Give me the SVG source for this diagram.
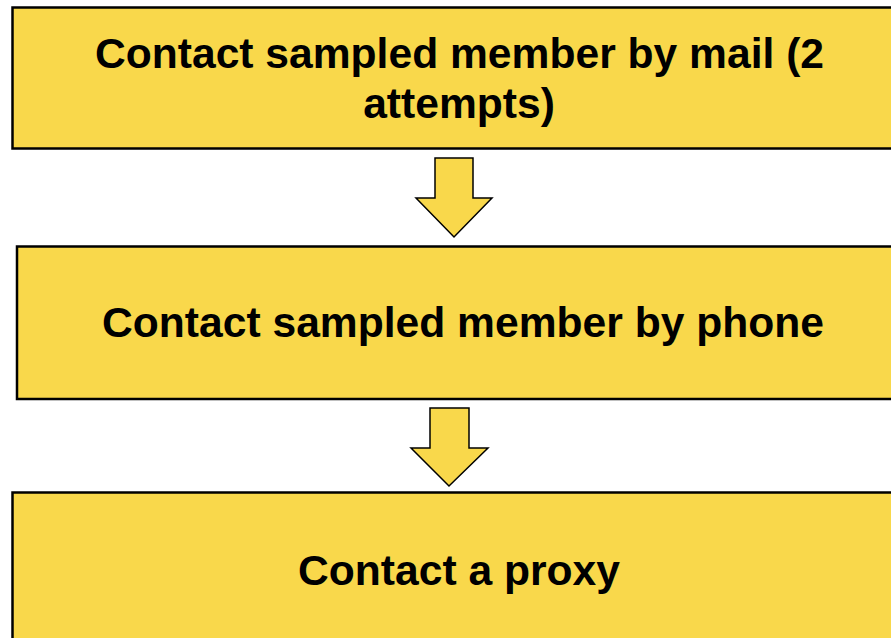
<svg xmlns="http://www.w3.org/2000/svg" width="891" height="638" viewBox="0 0 891 638">
<style>
.box{fill:#F9D84B;stroke:#000;stroke-width:2.5}
.arr{fill:#F9D84B;stroke:#000;stroke-width:1.5;stroke-linejoin:miter}
.t{font-family:"Liberation Sans",Arial,sans-serif;font-weight:bold;font-size:42.6px;fill:#000;text-anchor:middle}
</style>
<rect width="891" height="638" fill="#fff"/>
<g id="node1">
<rect class="box" x="12.5" y="7.5" width="900" height="141"/>
<text class="t" x="459.5" y="68">Contact sampled member by mail (2</text>
<text class="t" x="459" y="118">attempts)</text>
</g>
<g id="node2">
<rect class="box" x="17" y="246.5" width="900" height="152.5"/>
<text class="t" x="463" y="337">Contact sampled member by phone</text>
</g>
<g id="node3">
<rect class="box" x="12.5" y="492.5" width="900" height="160"/>
<text class="t" x="459" y="585">Contact a proxy</text>
</g>
<g id="connectors">
<polygon class="arr" points="435,158 473,158 473,198 492,198 454,237 416,198 435,198"/>
<polygon class="arr" points="430,408 469,408 469,448 488,448 449,486 411,448 430,448"/>
</g>
</svg>
